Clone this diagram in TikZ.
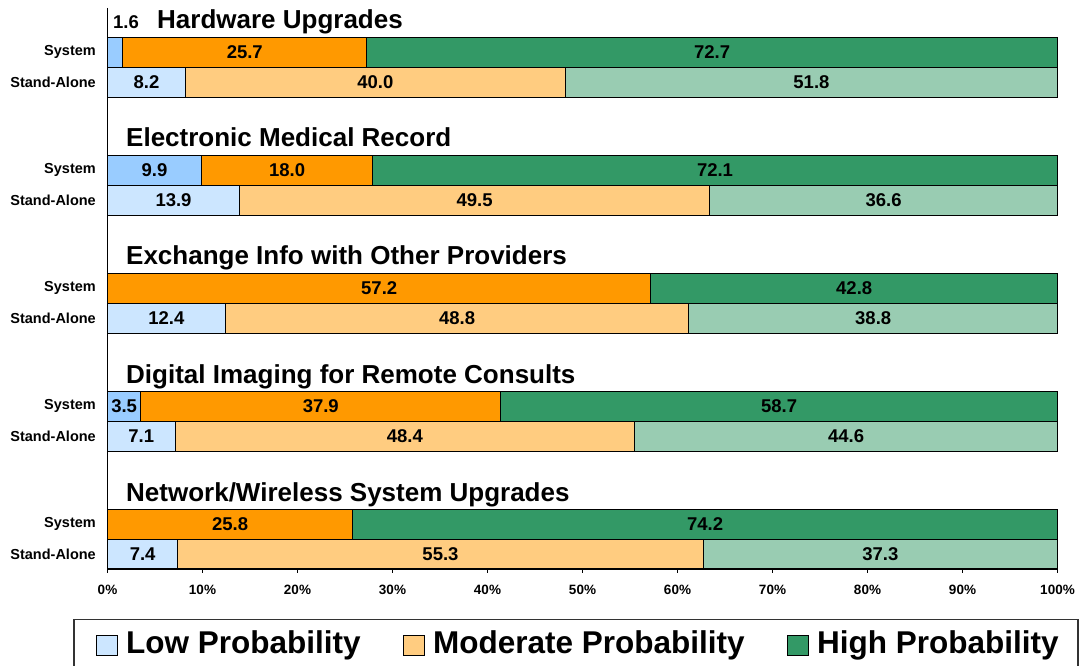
\documentclass[tikz,border=0pt]{standalone}
\usepackage{fontspec}
\setmainfont{Liberation Sans}
\definecolor{lowsys}{HTML}{99CCFF}
\definecolor{modsys}{HTML}{FF9900}
\definecolor{highsys}{HTML}{339966}
\definecolor{lowsa}{HTML}{CCE6FF}
\definecolor{modsa}{HTML}{FFCC80}
\definecolor{highsa}{HTML}{99CCB2}
\tikzset{
  seg/.style={draw=black, line width=0.9pt},
  val/.style={font=\fontsize{18.5}{19}\selectfont\bfseries, inner sep=0pt},
  cat/.style={font=\fontsize{14.5}{15}\selectfont\bfseries, anchor=east, inner sep=0pt},
  grouptitle/.style={font=\fontsize{26}{26}\selectfont\bfseries, anchor=base west, inner sep=0pt},
  ticklabel/.style={font=\fontsize{13.5}{14}\selectfont\bfseries, inner sep=0pt},
  legtext/.style={font=\fontsize{31.5}{32}\selectfont\bfseries, anchor=west, inner sep=0pt},
  legsquare/.style={draw=black, line width=0.9pt}
}
\begin{document}
\begin{tikzpicture}[x=1pt,y=-1pt]
\useasboundingbox (0,0) rectangle (1080,666);
% one group per row: bar top, title x, System low/mod/high, Stand-Alone low/mod/high
\foreach \y/\tx/\name/\a/\b/\c/\d/\e/\f [count=\i] in {
    37/157/Hardware Upgrades/1.6/25.7/72.7/8.2/40.0/51.8,
    155/126/Electronic Medical Record/9.9/18.0/72.1/13.9/49.5/36.6,
    273/126/Exchange Info with Other Providers/0/57.2/42.8/12.4/48.8/38.8,
    391/126/Digital Imaging for Remote Consults/3.5/37.9/58.7/7.1/48.4/44.6,
    509/126/{Network/Wireless System Upgrades}/0/25.8/74.2/7.4/55.3/37.3} {
  \pgfmathsetmacro{\xa}{107.5+9.5*\a}
  \pgfmathsetmacro{\xb}{\xa+9.5*\b}
  \pgfmathsetmacro{\xd}{107.5+9.5*\d}
  \pgfmathsetmacro{\xe}{\xd+9.5*\e}
  \node[grouptitle] (title\i) at (\tx,\y-8) {\name};
  \node[cat] (sys\i) at (96,\y+15) {System};
  \node[cat] (sa\i) at (96,\y+45) {Stand-Alone};
  % System bar
  \filldraw[seg,fill=lowsys] (107.5,\y) rectangle (\xa,\y+30);
  \filldraw[seg,fill=modsys] (\xa,\y) rectangle (\xb,\y+30);
  \filldraw[seg,fill=highsys] (\xb,\y) rectangle (1057.5,\y+30);
  \ifdim \a pt>3pt
    \node[val] at ({(107.5+\xa)/2},\y+15) {\a};
  \fi
  \node[val] at ({(\xa+\xb)/2},\y+15) {\b};
  \node[val] at ({(\xb+1057.5)/2},\y+15) {\c};
  % Stand-Alone bar
  \filldraw[seg,fill=lowsa] (107.5,\y+30) rectangle (\xd,\y+60);
  \filldraw[seg,fill=modsa] (\xd,\y+30) rectangle (\xe,\y+60);
  \filldraw[seg,fill=highsa] (\xe,\y+30) rectangle (1057.5,\y+60);
  \node[val] at ({(107.5+\xd)/2},\y+45) {\d};
  \node[val] at ({(\xd+\xe)/2},\y+45) {\e};
  \node[val] at ({(\xe+1057.5)/2},\y+45) {\f};
}
\node[val] (small) at (126,22) {1.6};
% axes
\draw[line width=0.9pt] (107.5,8) -- (107.5,568) -- (1057.5,568);
\foreach \p in {0,10,...,100} {
  \draw[line width=0.9pt] (107.5+9.5*\p,568) -- (107.5+9.5*\p,573);
  \node[ticklabel] (tick\p) at (107.5+9.5*\p,590) {\p\%};
}
% legend
\draw[line width=1.4pt,draw=black!80] (74,680) -- (74,619.5) -- (1078,619.5) -- (1078,680);
\filldraw[legsquare,fill=lowsa] (96,635) rectangle (117,655);
\node[legtext] (lowleg) at (126,645) {Low Probability};
\filldraw[legsquare,fill=modsa] (403,635) rectangle (424,655);
\node[legtext] (modleg) at (433,645) {Moderate Probability};
\filldraw[legsquare,fill=highsys] (787,635) rectangle (808,655);
\node[legtext] (highleg) at (817,645) {High Probability};
\end{tikzpicture}
\end{document}
